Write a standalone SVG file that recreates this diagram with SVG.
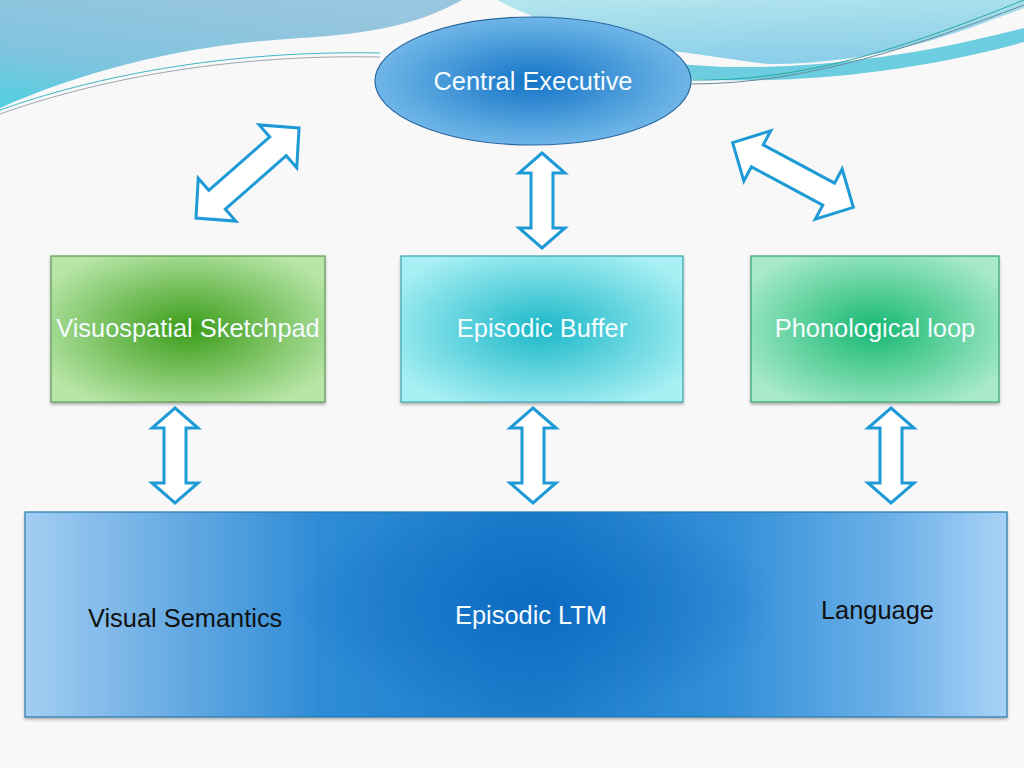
<svg xmlns="http://www.w3.org/2000/svg" width="1024" height="768" viewBox="0 0 1024 768">
<defs>
<style>
.lbl{font-family:"Liberation Sans",Arial,sans-serif;font-size:25.4px}
.w{fill:#f4fbff}
.k{fill:#111}
.arr{fill:#ffffff;stroke:#1e9ad6;stroke-width:3;stroke-linejoin:miter}
</style>
<linearGradient id="gTL" x1="0.6" y1="0" x2="0" y2="1">
<stop offset="0" stop-color="#98c6de"/>
<stop offset="0.6" stop-color="#80c4df"/>
<stop offset="1" stop-color="#4fd0e0"/>
</linearGradient>
<linearGradient id="gTR" x1="0" y1="0" x2="0.3" y2="1">
<stop offset="0" stop-color="#b4e6ee"/>
<stop offset="1" stop-color="#8ccfe9"/>
</linearGradient>
<radialGradient id="gEll" cx="0.5" cy="0.5" r="0.5">
<stop offset="0" stop-color="#1474c6"/>
<stop offset="1" stop-color="#6fb6e8"/>
</radialGradient>
<radialGradient id="gGreen" cx="0.5" cy="0.5" r="0.6">
<stop offset="0" stop-color="#3a9c18"/>
<stop offset="1" stop-color="#b8e6a8"/>
</radialGradient>
<radialGradient id="gCyan" cx="0.5" cy="0.5" r="0.6">
<stop offset="0" stop-color="#1cb8c8"/>
<stop offset="1" stop-color="#a8f0f4"/>
</radialGradient>
<radialGradient id="gTeal" cx="0.5" cy="0.5" r="0.6">
<stop offset="0" stop-color="#16b872"/>
<stop offset="1" stop-color="#a8eac8"/>
</radialGradient>
<linearGradient id="gBig" x1="0" y1="0" x2="1" y2="0">
<stop offset="0" stop-color="#a2cef2"/>
<stop offset="0.12" stop-color="#74b2e6"/>
<stop offset="0.3" stop-color="#2e8cd6"/>
<stop offset="0.52" stop-color="#1a7cca"/>
<stop offset="0.72" stop-color="#3490d8"/>
<stop offset="0.88" stop-color="#6cb0e8"/>
<stop offset="1" stop-color="#a8d2f6"/>
</linearGradient>
<radialGradient id="gBigC" cx="0.52" cy="0.45" r="0.25" gradientTransform="translate(0.52 0.45) scale(1 2.2) translate(-0.52 -0.45)">
<stop offset="0" stop-color="#0a68c0" stop-opacity="0.8"/>
<stop offset="1" stop-color="#0a68c0" stop-opacity="0"/>
</radialGradient>
<filter id="sh" x="-5%" y="-5%" width="110%" height="115%">
<feDropShadow dx="0" dy="2" stdDeviation="1.5" flood-color="#000" flood-opacity="0.3"/>
</filter>
<path id="vArr" d="M0,-47.5 L23,-27.5 L11,-27.5 L11,27.5 L23,27.5 L0,47.5 L-23,27.5 L-11,27.5 L-11,-27.5 L-23,-27.5 Z"/>
<path id="dArr" d="M68.5,0 L40.5,-28.5 L40.5,-12.5 L-40.5,-12.5 L-40.5,-28.5 L-68.5,0 L-40.5,28.5 L-40.5,12.5 L40.5,12.5 L40.5,28.5 Z"/>
</defs>

<rect x="0" y="0" width="1024" height="768" fill="#f8f8f8"/>

<g id="background-waves">
<path d="M0,0 L462,0 C420,24 370,34 300,38 C200,44 100,64 0,108 Z" fill="url(#gTL)"/>
<path d="M0,114 C90,82 220,54 380,57" fill="none" stroke="#9aa8b0" stroke-width="1"/>
<path d="M0,110 C90,78 220,50 380,53" fill="none" stroke="#3cb8c8" stroke-width="1"/>
<path d="M497,0 C560,32 620,46 680,52 C720,57 745,62 770,64 C880,64 960,32 1024,8 L1024,0 Z" fill="url(#gTR)"/>
<path d="M680,64 C760,72 880,66 1024,28 L1024,42 C900,76 780,84 690,79 Z" fill="#6ccde0"/>
<path d="M690,80 C800,82 900,50 1024,0" fill="none" stroke="#2aa8a0" stroke-width="1"/>
<path d="M690,84 C810,84 920,44 1024,5" fill="none" stroke="#6a8a9a" stroke-width="1"/>
</g>

<g id="connectors">
<use href="#dArr" class="arr" transform="translate(247.5,173) rotate(-41.2)"/>
<use href="#dArr" class="arr" transform="translate(793,175) rotate(28.2)"/>
<use href="#vArr" class="arr" transform="translate(542,200.5)"/>
<use href="#vArr" class="arr" transform="translate(175,455.5)"/>
<use href="#vArr" class="arr" transform="translate(533,455.5)"/>
<use href="#vArr" class="arr" transform="translate(891,455.5)"/>
</g>

<g id="central-executive">
<ellipse cx="533" cy="81" rx="158" ry="64" fill="url(#gEll)" stroke="#2a66a0" stroke-width="1.2"/>
<text class="lbl w" x="533" y="90" text-anchor="middle">Central Executive</text>
</g>

<g id="visuospatial-sketchpad">
<rect x="51" y="256" width="274" height="146" fill="url(#gGreen)" stroke="#5e9a50" stroke-width="1.2" filter="url(#sh)"/>
<text class="lbl w" x="188" y="337" text-anchor="middle">Visuospatial Sketchpad</text>
</g>

<g id="episodic-buffer">
<rect x="401" y="256" width="282" height="146" fill="url(#gCyan)" stroke="#3aa6b0" stroke-width="1.2" filter="url(#sh)"/>
<text class="lbl w" x="542" y="337" text-anchor="middle">Episodic Buffer</text>
</g>

<g id="phonological-loop">
<rect x="751" y="256" width="248" height="146" fill="url(#gTeal)" stroke="#32a070" stroke-width="1.2" filter="url(#sh)"/>
<text class="lbl w" x="875" y="337" text-anchor="middle">Phonological loop</text>
</g>

<g id="long-term-memory">
<rect x="25" y="512" width="982" height="205" fill="url(#gBig)" stroke="#2a78b0" stroke-width="1.2" filter="url(#sh)"/>
<rect x="25" y="512" width="982" height="205" fill="url(#gBigC)"/>
<text class="lbl k" x="88" y="627">Visual Semantics</text>
<text class="lbl w" x="455" y="624">Episodic LTM</text>
<text class="lbl k" x="821" y="619">Language</text>
</g>
</svg>
